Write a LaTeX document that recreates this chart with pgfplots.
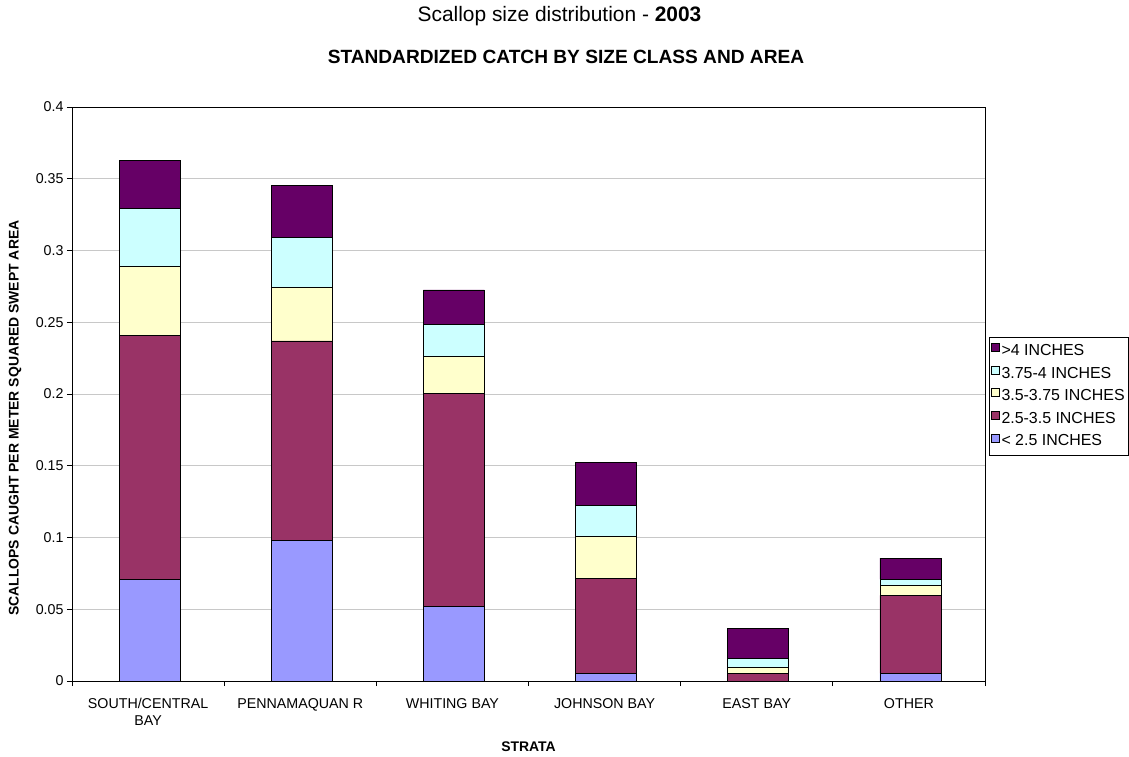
\documentclass[border=0pt]{standalone}
\usepackage{pgfplots}
\usepackage{pgfplotstable}
\pgfplotsset{compat=1.18}
\usepackage{fontspec}
\setmainfont{Liberation Sans}

% Excel-style palette for the five size classes
\definecolor{cBlue}{RGB}{153,153,255}
\definecolor{cMaroon}{RGB}{153,51,102}
\definecolor{cYellow}{RGB}{255,255,204}
\definecolor{cCyan}{RGB}{204,255,255}
\definecolor{cPurple}{RGB}{102,0,102}
\definecolor{gridgray}{RGB}{200,200,200}

% standardized catch per size class, one row per stratum
\pgfplotstableread{
x   small   mid     upper   large   xlarge
0   0.0710  0.1700  0.0480  0.0404  0.0336
1   0.0980  0.1390  0.0373  0.0351  0.0362
2   0.0520  0.1485  0.0258  0.0220  0.0242
3   0.0053  0.0660  0.0295  0.0216  0.0300
4   0.0000  0.0053  0.0040  0.0065  0.0207
5   0.0053  0.0544  0.0067  0.0045  0.0148
}\catch

\begin{document}
\begin{tikzpicture}
\useasboundingbox (0,0) rectangle (1129bp,757bp);
\begin{axis}[
  at={(72bp,76bp)}, anchor=south west,
  scale only axis,
  width=913bp, height=574bp,
  ybar stacked,
  bar width=61bp,
  bar shift=1.5bp,
  xmin=-0.5, xmax=5.5,
  ymin=0, ymax=0.4,
  xtick={-0.5,0.5,...,5.5},
  x tick label as interval,
  xticklabels={{SOUTH/CENTRAL\\BAY},{PENNAMAQUAN R},{WHITING BAY},{JOHNSON BAY},{EAST BAY},{OTHER}},
  ytick={0,0.05,...,0.4},
  tick pos=left,
  tick align=outside,
  major tick length=5bp,
  tick style={black, line width=0.8bp},
  axis line style={black, line width=0.8bp},
  ymajorgrids,
  major grid style={gridgray, line width=0.8bp},
  /pgf/number format/assume math mode=true,
  yticklabel style={font=\fontsize{14.3}{17}\selectfont,
    /pgf/number format/fixed, /pgf/number format/precision=2},
  xticklabel style={font=\fontsize{14.3}{17}\selectfont, align=center, yshift=-9bp},
  xlabel={\textbf{STRATA}},
  xlabel style={font=\fontsize{14}{17}\selectfont, at={(0.5,-0.115)}, anchor=center},
  ylabel={\textbf{SCALLOPS CAUGHT PER METER SQUARED SWEPT AREA}},
  ylabel style={font=\fontsize{14}{17}\selectfont, at={(-0.0624,0.458)}, anchor=center},
  reverse legend,
  legend cell align=left,
  legend image code/.code={\draw[#1,draw=black,line width=0.6bp] (0bp,0bp) rectangle (8bp,8bp);},
  legend style={at={(1.0044,0.5993)}, anchor=north west,
    draw=black, line width=0.8bp,
    font=\fontsize{16}{18}\selectfont,
    inner xsep=2bp, inner ysep=6bp, row sep=6.75bp,
    nodes={inner xsep=1.5bp, inner ysep=0pt, text height=11.5bp, text depth=3.5bp}},
  every axis plot/.append style={draw=black, line width=0.7bp},
]
\addplot[fill=cBlue]   table[x=x, y=small]  {\catch};
\addlegendentry{< 2.5 INCHES}
\addplot[fill=cMaroon] table[x=x, y=mid]    {\catch};
\addlegendentry{2.5-3.5 INCHES}
\addplot[fill=cYellow] table[x=x, y=upper]  {\catch};
\addlegendentry{3.5-3.75 INCHES}
\addplot[fill=cCyan]   table[x=x, y=large]  {\catch};
\addlegendentry{3.75-4 INCHES}
\addplot[fill=cPurple] table[x=x, y=xlarge] {\catch};
\addlegendentry{>4 INCHES}
\end{axis}

% chart title and subtitle
\node[font=\fontsize{21}{25}\selectfont, anchor=center]
  at (559.5bp,741bp) {Scallop size distribution - \textbf{2003}};
\node[font=\fontsize{19.2}{23}\selectfont\bfseries, anchor=center]
  at (566bp,700bp) {STANDARDIZED CATCH BY SIZE CLASS AND AREA};
\end{tikzpicture}
\end{document}
